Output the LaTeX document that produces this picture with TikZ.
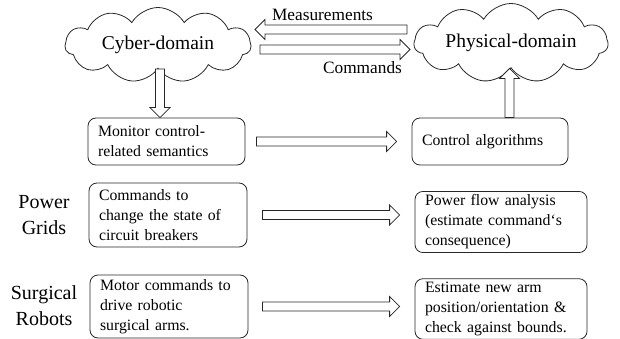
\documentclass[tikz,border=0pt]{standalone}
\usepackage{fontspec}
\setmainfont{Liberation Serif}
\usetikzlibrary{shapes.symbols,positioning,calc}
\definecolor{edge}{RGB}{40,40,40}
\newcommand{\blockarrow}[4]{
  % from, to, gap at start, gap at end
  \coordinate (ba) at ($(#1)!#3!(#2)$);
  \coordinate (bb) at ($(#2)!#4!(#1)$);
  \coordinate (bh) at ($(bb)!10pt!(ba)$);
  \draw[barrow] ($(ba)!4.5pt!90:(bb)$) -- ($(bh)!4.5pt!90:(bb)$) -- ($(bh)!10pt!90:(bb)$)
    -- (bb) -- ($(bh)!10pt!-90:(bb)$) -- ($(bh)!4.5pt!-90:(bb)$) -- ($(ba)!4.5pt!-90:(bb)$) -- cycle;
}
\tikzstyle{box}=[draw=edge, line width=.8pt, rounded corners=8pt, align=left, inner xsep=10pt,
  font=\fontsize{15.8}{20}\selectfont]
\tikzstyle{cloudy}=[draw=edge, line width=.8pt, cloud, cloud puffs=11, cloud puff arc=120,
  cloud ignores aspect, inner sep=0pt, font=\fontsize{19.5}{23}\selectfont]
\tikzstyle{barrow}=[draw=edge, line width=.8pt, fill=white, line join=miter]
\tikzstyle{side}=[align=center, font=\fontsize{20}{26}\selectfont]
\tikzstyle{flow}=[font=\fontsize{17.3}{20}\selectfont]
\tikzset{y=-1pt}
\tikzset{x=1pt}

\begin{document}
\begin{tikzpicture}
  \useasboundingbox (0,0) rectangle (620,339);
  %% Domains
  \draw (158,45) node[cloudy, minimum width=186pt, minimum height=75pt] (Cyber) {Cyber-domain};
  \draw (511,43) node[cloudy, minimum width=194pt, minimum height=79pt] (Physical) {Physical-domain};

  %% Boxes
  \draw (166.5,141.5) node[box, text width=137pt, minimum height=47pt] (B11) {Monitor control-\\related semantics};
  \draw (490,141.5) node[box, text width=136pt, minimum height=47pt] (B12) {Control algorithms};

  \draw (168,215) node[box, text width=138pt, minimum height=64pt] (B21) {Commands to\\change the state of\\circuit breakers};
  \draw (501,222) node[box, text width=152pt, minimum height=60pt] (B22) {Power flow analysis\\(estimate command`s\\consequence)};

  \draw (169,306.5) node[box, text width=138pt, minimum height=63pt] (B31) {Motor commands to\\drive robotic\\surgical arms.};
  \draw (501,309) node[box, text width=152pt, minimum height=58pt] (B32) {Estimate new arm\\position/orientation \&\\check against bounds.};

  \draw (44,215.5) node[side] (G) {Power\\Grids};
  \draw (44,305.5) node[side] (S) {Surgical\\Robots};

  %% Arrows
  \coordinate (meas-a) at (407,29.5);
  \coordinate (meas-b) at (255,29.5);
  \coordinate (cmd-a) at (260,49.5);
  \coordinate (cmd-b) at (410,49.5);
  \coordinate (dn-a) at ($(Cyber.south)+(2,0)$);
  \coordinate (dn-b) at (dn-a |- B11.north);
  \coordinate (up-b) at ($(Physical.south)+(-1.5,0)$);
  \coordinate (up-a) at (up-b |- B12.north);
  \coordinate (r2) at (B21.east -| B22.west);
  \coordinate (r3) at (B31.east -| B32.west);

  \blockarrow{meas-a}{meas-b}{0pt}{0pt}
  \blockarrow{cmd-a}{cmd-b}{0pt}{0pt}
  \blockarrow{dn-a}{dn-b}{0pt}{0pt}
  \blockarrow{up-a}{up-b}{0pt}{0pt}
  \blockarrow{B11.east}{B12.west}{11pt}{15pt}
  \blockarrow{B21.east}{r2}{15pt}{15pt}
  \blockarrow{B31.east}{r3}{14pt}{15pt}

  \draw (322.5,15) node[flow] (M) {Measurements};
  \draw (362.5,68) node[flow] (C) {Commands};
\end{tikzpicture}
\end{document}
